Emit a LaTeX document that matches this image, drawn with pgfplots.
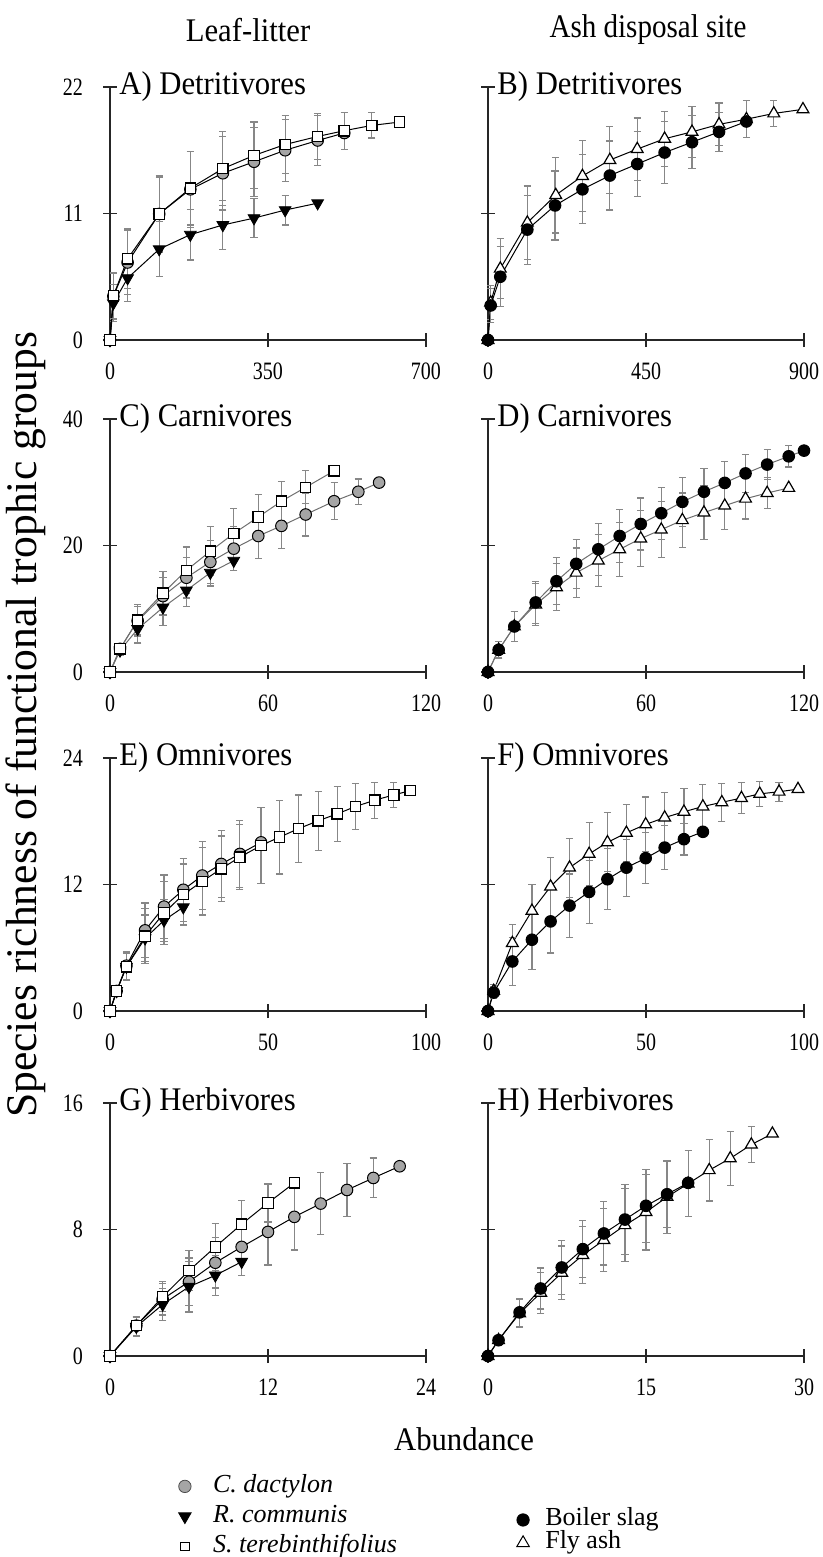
\documentclass[border=0pt]{standalone}
\usepackage{fontspec}
\setmainfont{Liberation Serif}
\usepackage{pgfplots}
\pgfplotsset{compat=1.18}
\definecolor{cgray}{RGB}{165,165,165}
\definecolor{ebar}{RGB}{135,135,135}
\definecolor{lgray}{RGB}{110,110,110}
\newcommand{\tl}[1]{\scalebox{0.93}[1]{#1}}
\tikzset{ttl/.style={anchor=west, inner sep=0pt, xshift=4.5pt, font=\fontsize{16.5}{18}\selectfont}}
\pgfplotsset{
  panel/.style={scale only axis, width=158pt, height=126.5pt, anchor=south west,
    axis x line*=bottom, axis y line*=left, clip=false,
    axis line style={black!85, line width=0.6pt},
    tick align=center, major tick length=7pt,
    tick style={black!85, line width=0.6pt},
    /pgf/number format/assume math mode=true,
    tick label style={font=\fontsize{12.5}{13}\selectfont},
    xticklabel={\scalebox{0.8}[1]{\pgfmathprintnumber{\tick}}},
    yticklabel={\scalebox{0.8}[1]{\pgfmathprintnumber{\tick}}},
    xticklabel style={yshift=-4.5pt},
    yticklabel style={xshift=-6.5pt},
    xmin=0, ymin=0},
  rpanel/.style={panel, yticklabels={}},
  cd/.style={mark=*, mark size=2.9pt, mark options={fill=cgray, draw=black, line width=0.5pt}},
  rc/.style={mark=triangle*, mark size=3.4pt, mark options={fill=black, draw=black, rotate=180, line width=0.4pt}},
  st/.style={mark=square*, mark size=2.6pt, mark options={fill=white, draw=black, line width=0.6pt}},
  bs/.style={mark=*, mark size=2.9pt, mark options={fill=black, draw=black}},
  fa/.style={mark=triangle*, mark size=3.4pt, mark options={fill=white, draw=black, line width=0.6pt}},
  eb/.style={error bars/y dir=both, error bars/y explicit,
    error bars/error bar style={ebar, line width=0.6pt},
    error bars/error mark options={rotate=90, ebar, mark size=1.8pt, line width=0.6pt}},
  ln/.style={black, line width=0.5pt},
  lg/.style={lgray, line width=0.5pt},
}
\begin{document}
\begin{tikzpicture}
\useasboundingbox (0pt,0pt) rectangle (411.5pt,-778.5pt);

% column titles and labels
\node[anchor=base, font=\fontsize{16.5}{18}\selectfont] at (124pt,-21pt) {\tl{Leaf-litter}};
\node[anchor=base, font=\fontsize{16.5}{18}\selectfont] at (324pt,-19pt) {\scalebox{0.88}[1]{Ash disposal site}};
\node[rotate=90, anchor=base, font=\fontsize{21.8}{24}\selectfont] at (18.25pt,-362.5pt) {Species richness of functional trophic groups};
\node[anchor=base, font=\fontsize{16.5}{18}\selectfont] at (232pt,-725pt) {\tl{Abundance}};

% ---------------- A ----------------
\begin{axis}[panel, at={(55pt,-170pt)}, xmax=700, ymax=22, xtick={0,350,700}, ytick={0,11,22}]
\addplot[ln, cd, eb] table[x=x, y=y, y error=e] {
x y e
0 0 0
7.4 3.8 2.0
39 6.74 2.8
109 10.96 3.3
178 13.1 3.3
250 14.5 3.2
319 15.5 3.0
388 16.5 2.7
460 17.35 2.2
519 18.0 0
};
\addplot[ln, rc, eb] table[x=x, y=y, y error=e] {
x y e
0 0 0
7.4 3.2 1.6
39 5.38 2.0
109 7.9 2.4
178 9.16 2.2
250 10.0 2.1
319 10.6 1.7
388 11.3 1.3
460 11.9 0
};
\addplot[ln, st, eb] table[x=x, y=y, y error=e] {
x y e
0 0 0
7.4 3.84 2.0
39 7.06 2.6
109 10.96 3.2
178 13.2 3.2
250 14.9 3.2
319 16.05 2.9
388 17.0 2.5
460 17.7 2.0
519 18.2 1.6
580 18.66 1.1
641 18.95 0
};
\node[ttl] at (rel axis cs:0,1) {\tl{A) Detritivores}};
\end{axis}

% ---------------- B ----------------
\begin{axis}[rpanel, at={(244pt,-170pt)}, xmax=900, ymax=22, xtick={0,450,900}, ytick={0,11,22}]
\addplot[ln, fa, eb] table[x=x, y=y, y error=e] {
x y e
0 0 0
7.6 3.25 1.5
35 6.2 2.6
112 10.2 3.2
193 12.6 3.3
269 14.26 3.1
347 15.65 2.9
425 16.6 2.7
503 17.5 2.4
581 18.1 2.2
658 18.75 1.85
736 19.2 1.6
814 19.7 1.1
897 20.06 0
};
\addplot[ln, bs, eb] table[x=x, y=y, y error=e] {
x y e
0 0 0
7.6 3.0 1.5
35 5.5 2.6
112 9.6 3.0
191 11.7 3.0
269 13.1 3.0
347 14.3 3.0
425 15.3 2.85
503 16.3 2.7
581 17.2 2.3
658 18.1 1.7
736 19.0 0
};
\node[ttl] at (rel axis cs:0,1) {\tl{B) Detritivores}};
\end{axis}

% ---------------- C ----------------
\begin{axis}[panel, at={(55pt,-336pt)}, xmax=120, ymax=40, xtick={0,60,120}, ytick={0,20,40}]
\addplot[lg, cd, eb] table[x=x, y=y, y error=e] {
x y e
0 0 0
3.8 3.66 0.8
10.5 8.1 2.2
20.1 12.0 3.0
29 14.9 3.2
38.1 17.4 3.4
47 19.5 3.5
56.3 21.5 3.6
65.1 23.1 3.6
74.3 24.9 3.4
85.1 27.0 2.9
94.3 28.5 2.0
102.2 29.95 0
};
\addplot[lg, rc, eb] table[x=x, y=y, y error=e] {
x y e
0 0 0
3.8 3.4 0.8
10.5 6.8 2.2
20.1 10.2 2.9
29 12.9 2.6
38.1 15.7 2.1
47 17.6 0
};
\addplot[lg, st, eb] table[x=x, y=y, y error=e] {
x y e
0 0 0
3.8 3.66 0.8
10.5 8.2 2.5
20.1 12.46 3.4
29 16.07 3.7
38.1 19.1 3.9
47 21.9 3.9
56.3 24.5 3.6
65.1 27.0 3.1
74.3 29.2 2.6
85.1 31.8 0
};
\node[ttl] at (rel axis cs:0,1) {\tl{C) Carnivores}};
\end{axis}

% ---------------- D ----------------
\begin{axis}[rpanel, at={(244pt,-336pt)}, xmax=120, ymax=40, xtick={0,60,120}, ytick={0,20,40}]
\addplot[lg, fa, eb] table[x=x, y=y, y error=e] {
x y e
0 0 0
4.05 3.5 1.3
10 7.2 2.4
18.1 10.66 3.3
26 13.4 3.7
33.5 15.7 3.9
41.9 17.6 4.1
50 19.4 4.3
58 21.1 4.4
65.8 22.5 4.4
73.8 24.0 4.3
82 25.2 4.2
89.9 26.3 3.8
97.8 27.4 3.2
106 28.3 2.4
114.2 29.1 0
};
\addplot[lg, bs, eb] table[x=x, y=y, y error=e] {
x y e
0 0 0
4.05 3.5 1.3
10 7.2 2.4
18.1 11.0 3.3
26 14.35 3.7
33.5 17.1 3.9
41.9 19.4 4.1
50 21.5 4.2
58 23.4 4.1
65.8 25.1 4.1
73.8 26.9 3.9
82 28.5 3.7
89.9 29.9 3.4
97.8 31.4 3.0
106 32.8 2.4
114.2 34.1 1.7
120 35.0 0
};
\node[ttl] at (rel axis cs:0,1) {\tl{D) Carnivores}};
\end{axis}

% ---------------- E ----------------
\begin{axis}[panel, at={(55pt,-505.5pt)}, xmax=100, ymax=24, xtick={0,50,100}, ytick={0,12,24}]
\addplot[ln, cd, eb] table[x=x, y=y, y error=e] {
x y e
0 0 0
2.1 1.9 0.5
5.2 4.3 1.3
11.1 7.65 2.6
17.1 9.9 3.0
23.2 11.5 3.0
29.2 12.85 3.2
35.2 13.95 3.2
41.1 14.9 3.2
47.8 16.0 0
};
\addplot[ln, rc, eb] table[x=x, y=y, y error=e] {
x y e
0 0 0
2.1 1.9 0.5
5.2 4.2 1.3
11.1 6.9 2.2
17.1 8.6 2.0
23.2 9.85 0
};
\addplot[ln, st, eb] table[x=x, y=y, y error=e] {
x y e
0 0 0
2.1 1.9 0.5
5.2 4.2 1.3
11.1 7.1 2.6
17.1 9.3 3.0
23.2 11.05 2.9
29.2 12.3 3.2
35.2 13.5 3.1
41.1 14.6 3.1
47.8 15.7 3.6
53.7 16.5 3.5
59.7 17.3 3.2
65.9 18.05 2.8
71.9 18.7 2.6
77.7 19.4 2.2
83.8 20.0 1.7
89.8 20.5 1.2
95 20.9 0
};
\node[ttl] at (rel axis cs:0,1) {\tl{E) Omnivores}};
\end{axis}

% ---------------- F ----------------
\begin{axis}[rpanel, at={(244pt,-505.5pt)}, xmax=100, ymax=24, xtick={0,50,100}, ytick={0,12,24}]
\addplot[ln, fa, eb] table[x=x, y=y, y error=e] {
x y e
0 0 0
1.8 1.9 0.6
7.7 6.44 1.8
13.9 9.5 2.5
19.8 11.8 2.8
25.8 13.6 2.8
32 14.9 3.0
37.8 16.0 2.8
43.8 16.9 2.7
49.9 17.7 2.6
55.9 18.35 2.4
62 18.9 2.2
68 19.4 2.1
74 19.8 1.8
80.2 20.2 1.5
86 20.6 1.2
92.1 20.8 0.9
98.1 21.05 0
};
\addplot[ln, bs, eb] table[x=x, y=y, y error=e] {
x y e
0 0 0
1.8 1.75 0.6
7.7 4.7 2.3
13.9 6.76 2.8
19.8 8.5 3.0
25.8 10.0 3.0
32 11.3 3.0
37.8 12.5 2.9
43.8 13.6 2.7
49.9 14.5 2.4
55.9 15.5 2.1
62 16.3 1.5
68 17.0 0
};
\node[ttl] at (rel axis cs:0,1) {\tl{F) Omnivores}};
\end{axis}

% ---------------- G ----------------
\begin{axis}[panel, at={(55pt,-678pt)}, xmax=24, ymax=16, xtick={0,12,24}, ytick={0,8,16},
  legend style={at={(axis description cs:0.216,-0.4545)}, anchor=north west, draw=none, fill=none,
    inner sep=0pt, row sep=0pt,
    nodes={inner sep=0pt, text height=10.5pt, text depth=4.5pt, font=\fontsize{13}{15}\selectfont}},
  legend cell align=left]
\addplot[ln, cd, eb, forget plot] table[x=x, y=y, y error=e] {
x y e
0 0 0
2 1.92 0.6
4 3.6 1.0
6 4.7 1.5
8 5.9 1.6
10 6.9 1.8
12 7.85 2.1
14 8.8 2.1
16 9.64 1.95
18 10.5 1.7
20 11.26 1.26
22 12.0 0
};
\addplot[ln, rc, eb, forget plot] table[x=x, y=y, y error=e] {
x y e
0 0 0
2 1.85 0.6
4 3.26 1.0
6 4.38 1.6
8 5.1 1.25
10 5.96 0
};
\addplot[ln, st, eb, forget plot] table[x=x, y=y, y error=e] {
x y e
0 0 0
2 1.92 0.6
4 3.75 0.95
6 5.4 1.25
8 6.9 1.5
10 8.34 1.5
12 9.68 1.2
14 10.95 0
};
\addlegendimage{only marks, mark=*, mark size=3.1pt, mark options={fill=cgray, draw=black!70, line width=0.4pt}}
\addlegendentry{\hspace{11pt}\textit{C. dactylon}}
\addlegendimage{only marks, mark=triangle*, mark size=3.6pt, mark options={fill=black, draw=black, rotate=180}}
\addlegendentry{\hspace{11pt}\textit{R. communis}}
\addlegendimage{only marks, mark=square*, mark size=2.1pt, mark options={fill=white, draw=black, line width=0.5pt}}
\addlegendentry{\hspace{11pt}\textit{S. terebinthifolius}}
\node[ttl] at (rel axis cs:0,1) {\tl{G) Herbivores}};
\end{axis}

% ---------------- H ----------------
\begin{axis}[rpanel, at={(244pt,-678pt)}, xmax=30, ymax=16, xtick={0,15,30}, ytick={0,8,16},
  legend style={at={(axis description cs:0.090,-0.601)}, anchor=north west, draw=none, fill=none,
    inner sep=0pt, row sep=0pt,
    nodes={inner sep=0pt, text height=8.5pt, text depth=3pt, font=\fontsize{13}{15}\selectfont}},
  legend cell align=left]
\addplot[ln, fa, eb, forget plot] table[x=x, y=y, y error=e] {
x y e
0 0 0
1 1.0 0.3
3 2.7 0.9
5 4.0 1.3
7 5.26 1.7
9 6.38 1.8
11 7.33 2.0
13 8.27 2.3
15 9.1 2.4
17 10.06 2.3
19 10.9 2.1
21 11.75 1.95
23 12.5 1.7
25 13.37 1.15
27 14.06 0
};
\addplot[ln, bs, eb, forget plot] table[x=x, y=y, y error=e] {
x y e
0 0 0
1 1.0 0.3
3 2.76 0.9
5 4.27 1.3
7 5.6 1.7
9 6.76 1.8
11 7.75 2.0
13 8.63 2.2
15 9.5 2.3
17 10.23 2.1
19 10.95 0
};
\addlegendimage{only marks, mark=*, mark size=3.1pt, mark options={fill=black, draw=black}}
\addlegendentry{\hspace{8pt}Boiler slag}
\addlegendimage{only marks, mark=triangle*, mark size=3.6pt, mark options={fill=white, draw=black, line width=0.5pt}}
\addlegendentry{\hspace{8pt}Fly ash}
\node[ttl] at (rel axis cs:0,1) {\tl{H) Herbivores}};
\end{axis}
\end{tikzpicture}
\end{document}
